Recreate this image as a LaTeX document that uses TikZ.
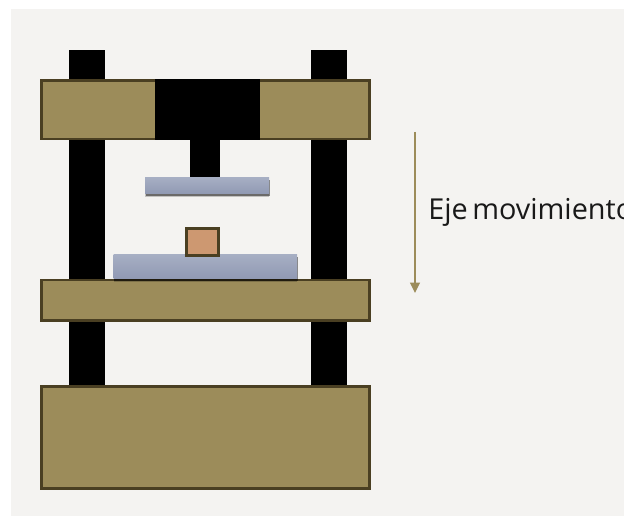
\documentclass[tikz,border=0pt]{standalone}
\usepackage{xcolor}
\usepackage{fontspec}
\setmainfont{Open Sans}[WordSpace=0.6]
\usepackage{tikz}
\usetikzlibrary{arrows.meta, shadows}
\definecolor{paperColor}{HTML}{F4F3F1}
\definecolor{beamFill}{HTML}{9C8C5A}
\definecolor{beamFrame}{HTML}{4A3F22}
\definecolor{plateTop}{HTML}{A6AEC3}
\definecolor{plateBottom}{HTML}{9099B3}
\definecolor{pieceFill}{HTML}{CD9871}
\tikzset{
    beam/.style={fill=beamFill, draw=beamFrame, line width=0.055cm},
    plate/.style={top color=plateTop, bottom color=plateBottom,
        drop shadow={shadow xshift=0cm, shadow yshift=-0.06cm, fill=black, opacity=0.2},
        drop shadow={shadow xshift=0.01cm, shadow yshift=-0.035cm, fill=black, opacity=0.45}},
}

\begin{document}
\begin{tikzpicture}[x=0.02cm, y=-0.02cm]
    \useasboundingbox (0,0) rectangle (624,516);
    \fill[paperColor] (11,9) rectangle (624,516);
    % columns
    \fill[black] (68.5,50) rectangle (104.5,386);
    \fill[black] (310.5,50) rectangle (346.5,386);
    % head
    \draw[beam] (41.5,80.5) rectangle (369.5,139);
    \fill[black] (155,79) rectangle (260,140);
    \fill[black] (190,140) rectangle (220,179);
    \fill[plate] (145,178) rectangle (269,194);
    % table and base
    \draw[beam] (41.5,280) rectangle (369.5,320.5);
    \draw[beam] (41.5,386.5) rectangle (369.5,488.5);
    \fill[plate] (113.5,255) rectangle (297,279);
    \draw[fill=pieceFill, draw=beamFrame, line width=0.055cm] (186.5,228.5) rectangle (218.5,255.5);
    % axis
    \coordinate (axisTop) at (415,132);
    \coordinate (axisEnd) at (415,293);
    \draw[-{Triangle[length=0.21cm, width=0.2cm]}, beamFill, line width=0.03cm] (axisTop) -- (axisEnd);
    \node[anchor=base west, inner sep=0pt, text=black!90, font=\fontsize{16.4}{19}\selectfont] (axisLabel) at (428,220) {Eje movimiento};
\end{tikzpicture}
\end{document}
